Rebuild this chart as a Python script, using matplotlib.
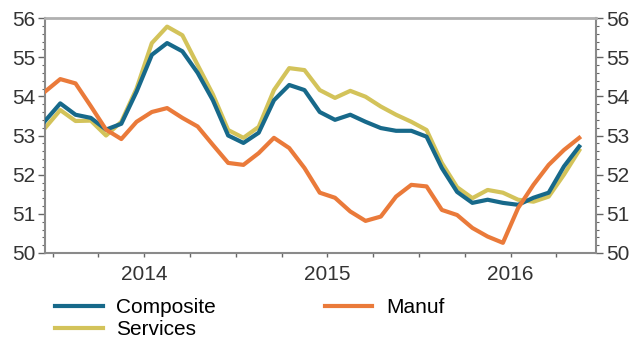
import numpy as np
import matplotlib
matplotlib.use("Agg")
import matplotlib.pyplot as plt
from matplotlib.ticker import FixedLocator, FixedFormatter, MultipleLocator

plt.rcParams["font.family"] = ["Liberation Sans", "DejaVu Sans"]

# Monthly readings, Jun 2013 .. May 2016
composite = [53.37, 53.82, 53.53, 53.45, 53.15, 53.30, 54.12, 55.06, 55.36, 55.15,
             54.60, 53.90, 53.00, 52.81, 53.07, 53.90, 54.29, 54.16, 53.60, 53.40,
             53.53, 53.35, 53.19, 53.12, 53.12, 52.97, 52.17, 51.56, 51.28, 51.36,
             51.28, 51.23, 51.41, 51.54, 52.21, 52.72]
services = [53.19, 53.65, 53.37, 53.38, 53.00, 53.35, 54.20, 55.36, 55.78, 55.56,
            54.80, 54.05, 53.14, 52.94, 53.22, 54.16, 54.72, 54.67, 54.16, 53.96,
            54.14, 53.99, 53.74, 53.53, 53.35, 53.14, 52.30, 51.68, 51.40, 51.61,
            51.54, 51.36, 51.31, 51.44, 52.00, 52.62]
manuf = [54.12, 54.44, 54.33, 53.75, 53.15, 52.91, 53.35, 53.60, 53.70, 53.45,
         53.23, 52.76, 52.30, 52.25, 52.55, 52.94, 52.68, 52.17, 51.54, 51.41,
         51.06, 50.82, 50.93, 51.44, 51.74, 51.70, 51.10, 50.97, 50.64, 50.42,
         50.26, 51.15, 51.74, 52.25, 52.63, 52.94]

year_labels = ["2014", "2015", "2016"]

x = np.arange(len(composite))

fig = plt.figure(figsize=(6.35, 3.45), dpi=100)
ax = fig.add_axes([45 / 635, 1 - 253 / 345, (596 - 45) / 635, (253 - 18) / 345])

ax.plot(x, services, color="#d3c35a", lw=3, label="Services", zorder=2)
ax.plot(x, composite, color="#17698a", lw=3, label="Composite", zorder=3)
ax.plot(x, manuf, color="#ea7a3a", lw=3, label="Manuf", zorder=4)

ax.set_xlim(0, 36.1)
ax.set_ylim(50, 56)

# quarter ticks, year label on each January
qticks = np.arange(0.5, 36, 3)
qlabels = [""] * len(qticks)
for k, lab in zip([2, 6, 10], year_labels):
    qlabels[k] = lab
ax.xaxis.set_major_locator(FixedLocator(qticks))
ax.xaxis.set_major_formatter(FixedFormatter(qlabels))

ax.yaxis.set_major_locator(MultipleLocator(1))
ax.yaxis.set_minor_locator(MultipleLocator(0.2))
ax.tick_params(axis="y", which="both", left=True, right=True, labelleft=True,
               labelright=True, direction="out", colors="#666666",
               labelcolor="#333333", labelsize=15, pad=2)
ax.tick_params(axis="y", which="major", length=5, width=1)
ax.tick_params(axis="y", which="minor", length=2.5, width=0.8)
ax.tick_params(axis="x", direction="out", length=3, width=1, colors="#666666",
               labelcolor="#333333", labelsize=15, pad=6)

for side in ["left", "right", "bottom", "top"]:
    ax.spines[side].set_color("#8a8a8a")
    ax.spines[side].set_linewidth(1.5)
ax.spines["top"].set_color("#b0b0b0")
ax.spines["top"].set_linewidth(2)

h, l = ax.get_legend_handles_labels()
order = [1, 0, 2]
fig.legend([h[i] for i in order], [l[i] for i in order], loc="upper left",
           bbox_to_anchor=(55 / 635, 1 - 298 / 345), ncol=2, frameon=False,
           fontsize=15, handlelength=2.3, handletextpad=0.65, columnspacing=5.2,
           labelspacing=0.15, borderpad=0, borderaxespad=0)

fig.savefig("out.png", dpi=100)
